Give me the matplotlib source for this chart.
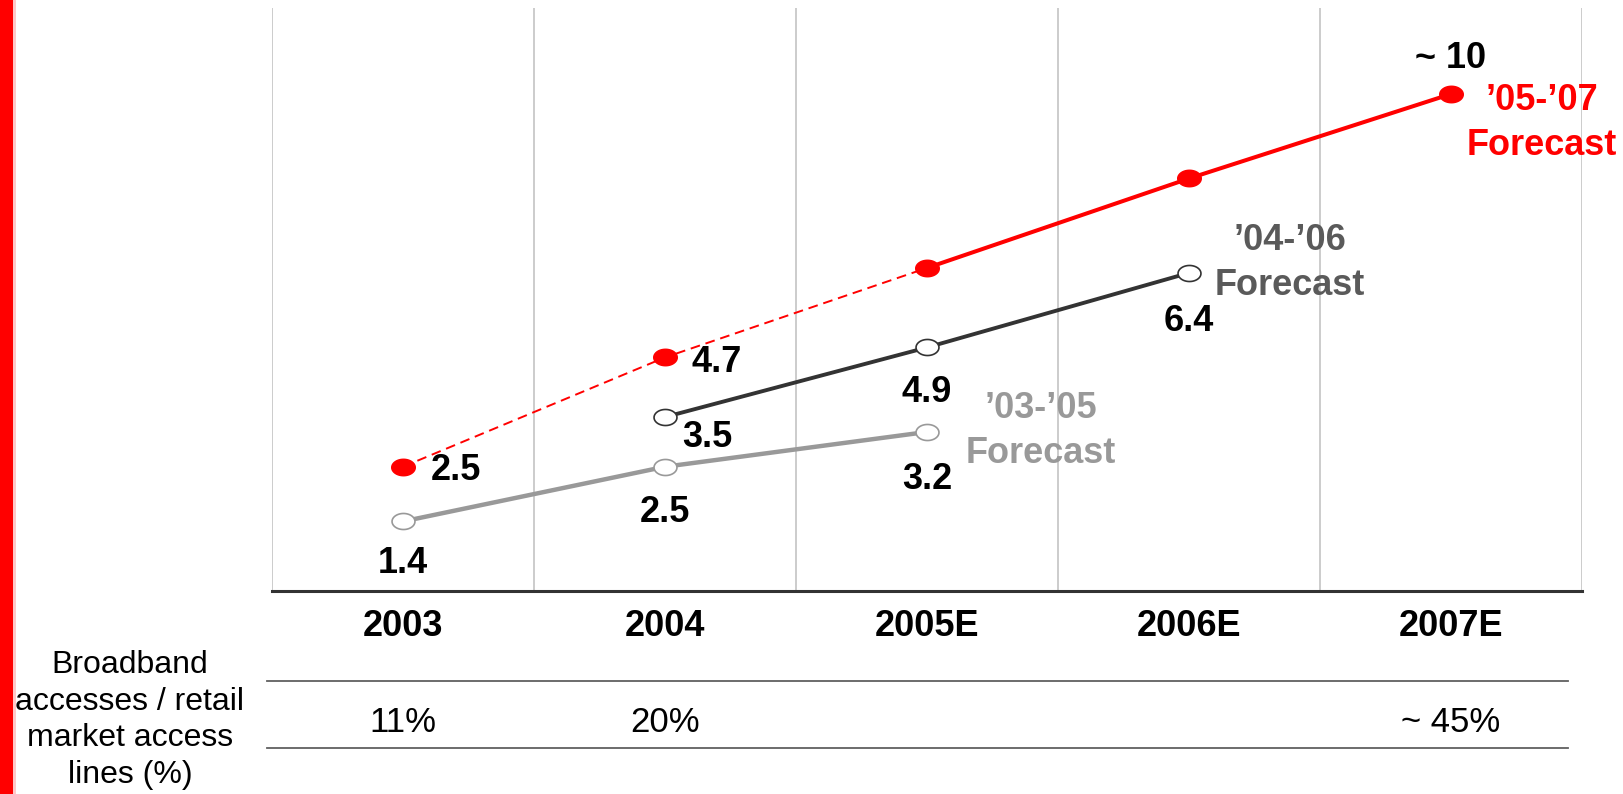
import numpy as np
import matplotlib
matplotlib.use('Agg')
import matplotlib.pyplot as plt
from matplotlib.path import Path
from matplotlib.lines import Line2D
from matplotlib.patches import Rectangle
import matplotlib.transforms as mtrans

# data
years = ['2003', '2004', '2005E', '2006E', '2007E']
fc_05_07 = [2.5, 4.7, 6.5, 8.3, 10.0]
fc_04_06 = [np.nan, 3.5, 4.9, 6.4, np.nan]
fc_03_05 = [1.4, 2.5, 3.2, np.nan, np.nan]
labels_05_07 = ['2.5', '4.7', '', '', '~ 10']
labels_04_06 = ['', '3.5', '4.9', '6.4', '']
labels_03_05 = ['1.4', '2.5', '3.2', '', '']
share = ['11%', '20%', '', '', '~ 45%']
share_title = 'Broadband\naccesses / retail\nmarket access\nlines (%)'

RED = '#ff0000'
DARK = '#333333'
GREY = '#999999'
FONT = 'Liberation Sans'

plt.rcParams['font.family'] = [FONT, 'DejaVu Sans']

fig = plt.figure(figsize=(16.24, 7.94), dpi=100)
W, H = 1624, 794
ax = fig.add_axes([272 / W, 1 - 591 / H, (1582 - 272) / W, (591 - 8) / H])
x = np.arange(len(years))
ax.set_xlim(-0.5, len(years) - 0.5)
ax.set_ylim(0, 11.73)

# category separators
for b in np.arange(-0.5, len(years), 1.0):
    ax.axvline(b, color='#c4c4c4', lw=1.2, zorder=0)

for s in ['top', 'left', 'right']:
    ax.spines[s].set_visible(False)
ax.spines['bottom'].set_color('#333333')
ax.spines['bottom'].set_linewidth(2.2)
ax.set_yticks([])
ax.set_xticks(x)
ax.set_xticklabels(years, fontsize=26, fontweight='bold')
ax.tick_params(axis='x', length=0, pad=13)

# elliptic marker
t = np.linspace(0, 2 * np.pi, 64)
ell = Path(np.column_stack([np.cos(t), 0.70 * np.sin(t)]), closed=True)

# '05-'07 forecast: dashed for actuals, solid for forecast
ax.plot(x[:3], fc_05_07[:3], color=RED, lw=1.4, ls=(0, (5, 3)), zorder=2)
ax.plot(x[2:], fc_05_07[2:], color=RED, lw=2.9, zorder=2)
ax.plot(x, fc_05_07, ls='none', marker=ell, ms=17, mfc=RED, mec=RED, zorder=4)

ax.plot(x, fc_04_06, color=DARK, lw=2.8, marker=ell, ms=16.5, mfc='white',
        mec=DARK, mew=1.2, zorder=3)
ax.plot(x, fc_03_05, color=GREY, lw=3.2, marker=ell, ms=16.5, mfc='white',
        mec=GREY, mew=1.2, zorder=3)

num = dict(fontsize=26, fontweight='bold', color='black', textcoords='offset points')
px = 0.72  # pixels -> points

red_off = [(28, -4), (27, -5), None, None, (0, 35)]
for i, (v, lab) in enumerate(zip(fc_05_07, labels_05_07)):
    if lab:
        dx, dy = red_off[i]
        ax.annotate(lab, (x[i], v), xytext=(dx * px, dy * px),
                    ha='left' if dx else 'center', va='center', **num)

dark_off = [None, (42, -20), (0, -45), (0, -49), None]
for i, (v, lab) in enumerate(zip(fc_04_06, labels_04_06)):
    if lab:
        dx, dy = dark_off[i]
        ax.annotate(lab, (x[i], v), xytext=(dx * px, dy * px),
                    ha='center', va='center', **num)

grey_off = [(0, -42), (0, -46), (0, -48), None, None]
for i, (v, lab) in enumerate(zip(fc_03_05, labels_03_05)):
    if lab:
        dx, dy = grey_off[i]
        ax.annotate(lab, (x[i], v), xytext=(dx * px, dy * px),
                    ha='center', va='center', **num)

# series names
ser = dict(fontsize=26, fontweight='bold', textcoords='offset points',
           ha='center', va='center', linespacing=1.38)
ax.annotate('\u201905-\u201907\nForecast', (x[4], fc_05_07[4]),
            xytext=(91 * px, -29 * px), color=RED, **ser)
ax.annotate('\u201904-\u201906\nForecast', (x[3], fc_04_06[3]),
            xytext=(101 * px, 10 * px), color='#5a5a5a', **ser)
ax.annotate('\u201903-\u201905\nForecast', (x[2], fc_03_05[2]),
            xytext=(114 * px, 1 * px), color=GREY, **ser)

# table below the chart
for yy in [681, 748]:
    fig.add_artist(Line2D([267 / W, 1568 / W], [1 - yy / H, 1 - yy / H],
                          color='#606060', lw=1.3, transform=fig.transFigure))
tr = mtrans.blended_transform_factory(ax.transData, fig.transFigure)
for i, s in enumerate(share):
    if s:
        fig.text(x[i], 1 - 722 / H, s, transform=tr, ha='center', va='center',
                 fontsize=25)
fig.text(130 / W, 1 - 720 / H, share_title, ha='center', va='center',
         fontsize=23, linespacing=1.3)

# red bar on the left edge
fig.add_artist(Rectangle((0, 0), 13 / W, 1, color=RED, transform=fig.transFigure, lw=0))
fig.add_artist(Rectangle((13 / W, 0), 3 / W, 1, color='#ffc8c8', transform=fig.transFigure, lw=0))

fig.savefig('out.png', dpi=100)
